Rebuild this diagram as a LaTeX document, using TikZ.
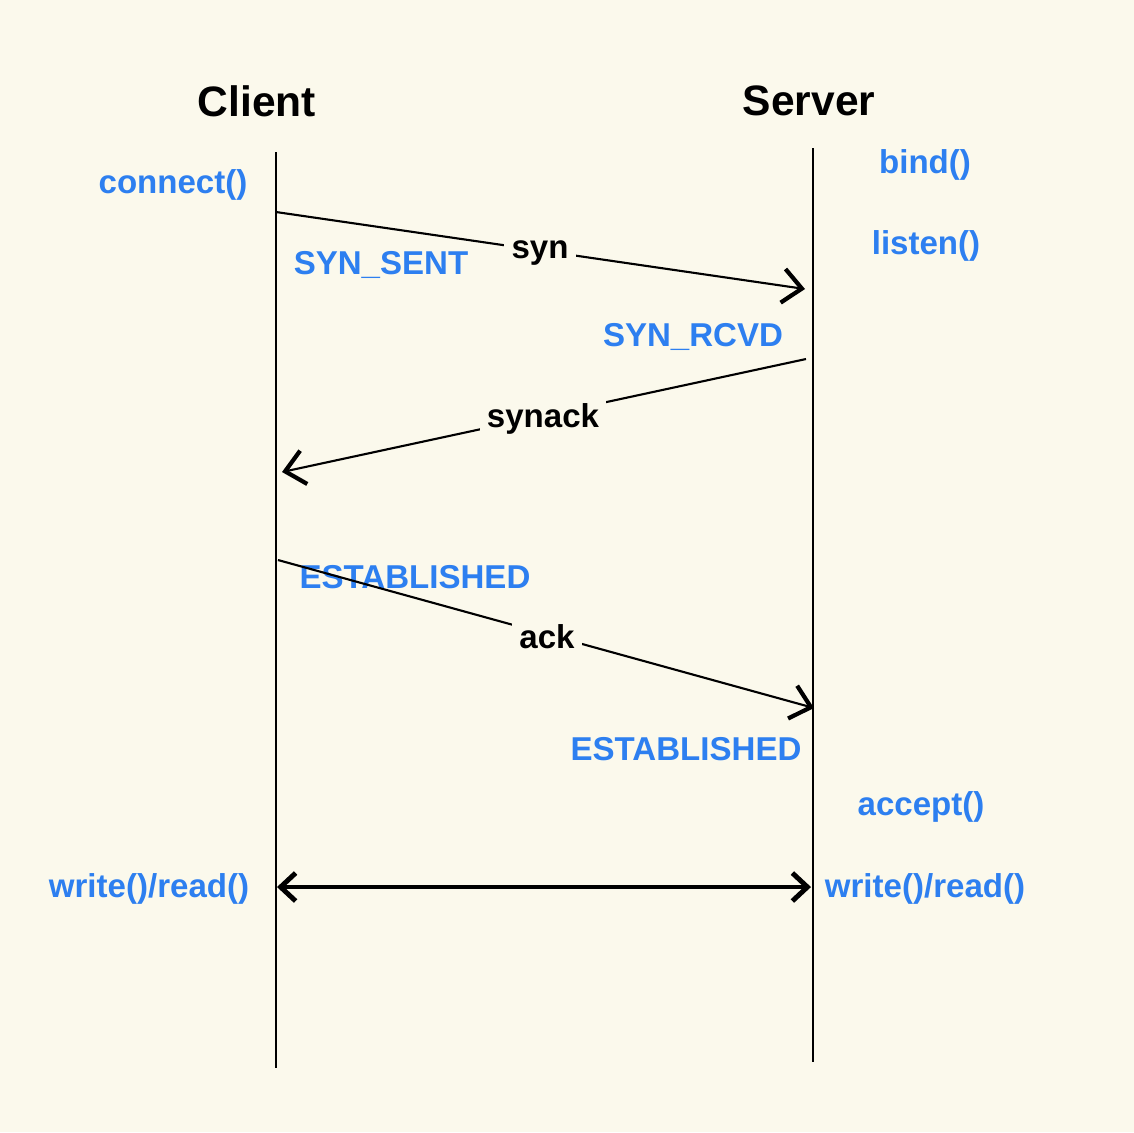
\documentclass[tikz,border=0pt]{standalone}
\usepackage{fontspec}
\setmainfont{Liberation Sans}
\usepackage{tikz}
\usetikzlibrary{arrows.meta,positioning}

\definecolor{paper}{RGB}{251,249,236}
\definecolor{stateblue}{RGB}{45,127,240}

\tikzset{
	title/.style={font=\fontsize{12.1}{14}\selectfont\bfseries, text=black},
	call/.style={font=\fontsize{9.4}{11}\selectfont\bfseries, text=stateblue, inner sep=1pt},
	msg/.style={font=\fontsize{9.4}{11}\selectfont\bfseries, text=black, fill=paper, inner sep=2pt},
	lifeline/.style={black, line width=0.6pt},
	packet/.style={black, line width=0.6pt, -{Straight Barb[length=1.9mm,width=3.4mm,line width=1.2pt]}},
	data/.style={black, line width=1.4pt, {Straight Barb[length=1.5mm,width=2.8mm]}-{Straight Barb[length=1.5mm,width=2.8mm]}}
}

\begin{document}
\begin{tikzpicture}[x=0.01cm,y=-0.01cm]
					
					\fill[paper] (0,0) rectangle (1134,1132);
					\useasboundingbox (0,0) rectangle (1134,1132);
					
					% lifelines
					\coordinate (ctop) at (276,152);
					\coordinate (cbot) at (276,1068);
					\coordinate (stop) at (813,148);
					\coordinate (sbot) at (813,1062);
					\draw[lifeline] (ctop) -- (cbot);
					\draw[lifeline] (stop) -- (sbot);
					
					\node[title] (client) at (257,101) {Client};
					\node[title] (server) at (809,101) {Server};
					
					% socket calls and states
					\node[call] (connect) at (173,185) {connect()};
					\node[call] (bind) at (925,165) {bind()};
					\node[call] (listen) at (926,246) {listen()};
					\node[call] (synsent) at (381,265) {SYN\_SENT};
					\node[call] (synrcvd) at (693,337) {SYN\_RCVD};
					\node[call] (estc) at (415,577) {ESTABLISHED};
					\node[call] (ests) at (686,749) {ESTABLISHED};
					\node[call] (accept) at (921,807) {accept()};
					\node[call] (rwc) at (149,889) {write()/read()};
					\node[call] (rws) at (925,889) {write()/read()};
					
					% handshake
					\coordinate (syna) at (276,212);
					\coordinate (synb) at (805,289);
					\coordinate (acka) at (806,359);
					\coordinate (ackb) at (282,472);
					\coordinate (lasta) at (278,560);
					\coordinate (lastb) at (814,708);
					\coordinate (rwa) at (277,887);
					\coordinate (rwb) at (811,887);
					
					\draw[packet] (syna) -- (synb);
					\draw[packet] (acka) -- (ackb);
					\draw[packet] (lasta) -- (lastb);
					\node[msg] (syn) at (540,253) {syn};
					\node[msg] (synack) at (543,419) {synack};
					\node[msg] (ack) at (547,637) {ack};
					
					\draw[data] (rwa) -- (rwb);
					
			\end{tikzpicture}
\end{document}
